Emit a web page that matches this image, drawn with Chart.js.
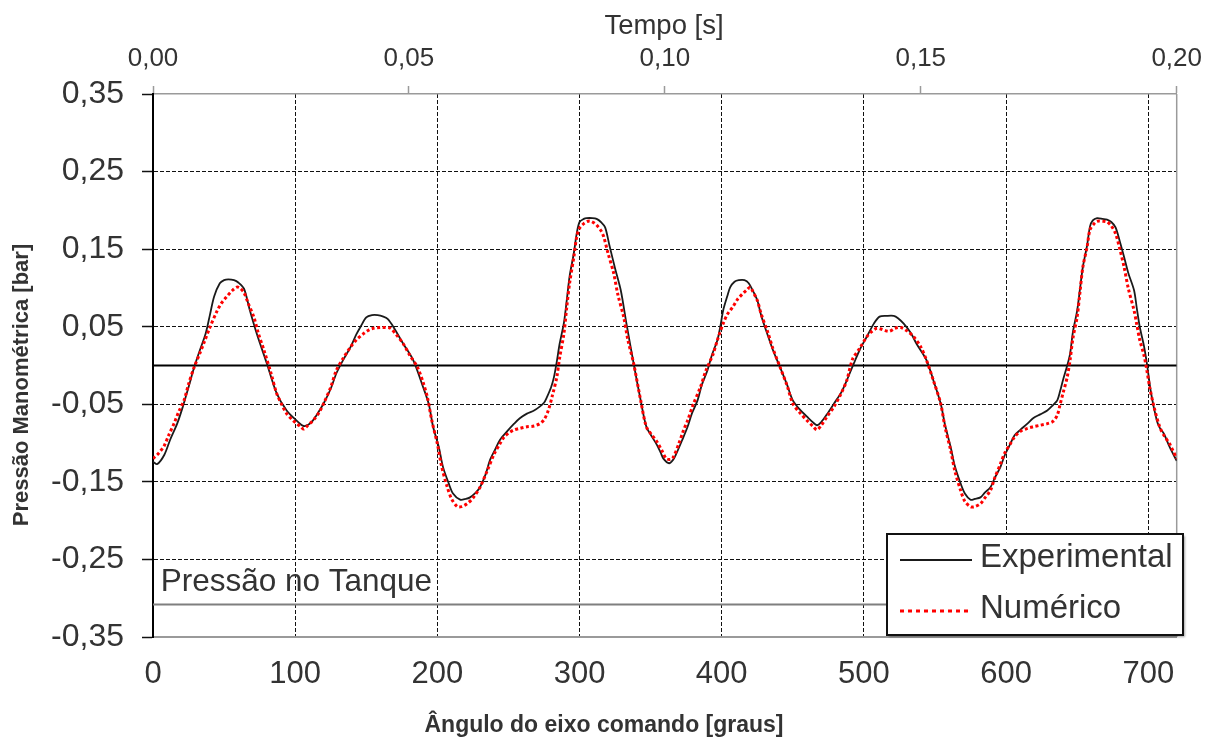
<!DOCTYPE html>
<html>
<head>
<meta charset="utf-8">
<script src="https://cdn.jsdelivr.net/npm/chart.js@4.4.1/dist/chart.umd.min.js"></script>
<style>
  html, body { margin: 0; padding: 0; background: #ffffff; }
  #wrap { width: 1214px; height: 740px; }
</style>
</head>
<body>
<div id="wrap"><canvas id="chart" width="1214" height="740"></canvas></div>
<script>
// Camshaft angle (degrees) and measured gauge pressure (bar)
const expAngle = [0,3,8,12,17,21,25,29,33,37,40,43,47,50,53,57,60,64,68,73,80,87,94,101,106,111,115,120,125,129,134,139,143,146,150,154,158,162,165,169,176,183,190,194,197,201,204,208,211,216,220,223,227,230,234,237,241,244,249,254,258,263,268,272,275,277,280,282,284,286,289,291,293,296,298,300,303,305,309,312,315,318,321,325,329,333,338,343,347,351,354,357,359,363,366,368,372,376,379,383,386,390,393,397,399,401,404,406,409,412,416,419,422,425,428,432,436,441,446,450,455,460,464,467,470,474,479,484,488,493,497,502,507,511,516,521,524,528,533,537,544,549,554,557,561,564,568,571,575,578,582,585,589,592,596,599,603,606,610,615,619,624,629,633,636,638,640,643,645,647,650,652,654,657,659,661,664,668,671,674,677,680,683,686,690,692,694,697,699,702,706,708,711,715,720];
const expPressure = [-0.124,-0.127,-0.115,-0.096,-0.075,-0.053,-0.028,-0.002,0.020,0.041,0.065,0.089,0.106,0.110,0.111,0.110,0.107,0.099,0.072,0.041,0.003,-0.036,-0.058,-0.071,-0.078,-0.074,-0.064,-0.049,-0.030,-0.010,0.008,0.024,0.040,0.050,0.062,0.065,0.065,0.063,0.060,0.050,0.028,0.007,-0.028,-0.050,-0.079,-0.105,-0.131,-0.152,-0.165,-0.173,-0.172,-0.170,-0.164,-0.157,-0.140,-0.122,-0.107,-0.096,-0.085,-0.075,-0.068,-0.062,-0.058,-0.053,-0.048,-0.041,-0.028,-0.015,0.005,0.028,0.055,0.084,0.115,0.145,0.170,0.185,0.189,0.190,0.190,0.189,0.185,0.178,0.155,0.125,0.097,0.054,0.003,-0.045,-0.079,-0.092,-0.101,-0.112,-0.120,-0.126,-0.121,-0.114,-0.097,-0.079,-0.062,-0.045,-0.025,-0.006,0.013,0.033,0.050,0.071,0.090,0.101,0.108,0.110,0.110,0.106,0.096,0.084,0.063,0.041,0.020,-0.002,-0.025,-0.045,-0.057,-0.066,-0.073,-0.077,-0.073,-0.063,-0.049,-0.035,-0.019,0.003,0.020,0.037,0.054,0.063,0.064,0.064,0.061,0.054,0.042,0.028,0.007,-0.020,-0.049,-0.076,-0.105,-0.130,-0.152,-0.165,-0.173,-0.172,-0.170,-0.164,-0.157,-0.145,-0.131,-0.116,-0.101,-0.090,-0.083,-0.075,-0.068,-0.063,-0.058,-0.051,-0.045,-0.033,-0.019,0.000,0.015,0.043,0.071,0.099,0.127,0.155,0.179,0.187,0.190,0.189,0.188,0.185,0.178,0.160,0.140,0.119,0.097,0.073,0.050,0.025,0.003,-0.036,-0.071,-0.080,-0.088,-0.105,-0.123];

// Simulated gauge pressure (bar)
const numAngle = [0,4,8,11,15,18,22,25,29,33,36,40,45,48,52,56,59,61,64,67,71,74,78,83,87,91,94,98,101,104,106,109,113,117,120,125,129,134,139,143,148,152,155,160,164,167,171,176,181,186,190,193,196,200,203,207,210,214,217,221,225,230,235,240,244,247,251,254,258,263,268,272,275,278,281,284,286,289,291,293,296,298,300,303,306,308,310,312,315,317,320,324,327,331,334,338,343,347,351,354,358,361,364,366,370,373,376,380,385,389,394,397,401,404,408,411,415,418,420,422,425,428,432,436,441,446,450,455,460,464,467,470,474,479,484,488,492,497,502,505,509,512,515,518,522,526,530,535,540,544,549,554,557,561,564,568,571,575,578,582,585,589,592,596,599,603,606,610,615,619,624,629,633,636,638,640,643,645,647,650,652,654,657,659,662,664,668,671,674,677,680,683,686,690,692,694,697,699,701,704,708,711,715,720];
const numPressure = [-0.120,-0.113,-0.103,-0.090,-0.074,-0.060,-0.044,-0.024,-0.002,0.016,0.030,0.049,0.070,0.080,0.089,0.097,0.101,0.100,0.094,0.080,0.062,0.042,0.020,-0.010,-0.036,-0.052,-0.062,-0.070,-0.075,-0.079,-0.082,-0.077,-0.070,-0.060,-0.049,-0.028,-0.006,0.010,0.024,0.033,0.041,0.046,0.048,0.049,0.049,0.048,0.040,0.028,0.012,-0.002,-0.022,-0.041,-0.070,-0.101,-0.130,-0.157,-0.172,-0.182,-0.182,-0.178,-0.171,-0.157,-0.136,-0.114,-0.101,-0.092,-0.086,-0.083,-0.081,-0.079,-0.078,-0.075,-0.070,-0.058,-0.038,-0.015,0.010,0.041,0.075,0.106,0.140,0.166,0.177,0.183,0.186,0.186,0.184,0.181,0.174,0.166,0.145,0.119,0.091,0.063,0.033,0.003,-0.045,-0.079,-0.090,-0.097,-0.110,-0.120,-0.121,-0.118,-0.100,-0.084,-0.071,-0.050,-0.028,-0.006,0.015,0.033,0.054,0.066,0.076,0.085,0.093,0.098,0.101,0.095,0.084,0.065,0.045,0.022,-0.002,-0.026,-0.049,-0.061,-0.071,-0.078,-0.083,-0.077,-0.066,-0.053,-0.036,-0.019,0.008,0.022,0.037,0.043,0.048,0.047,0.045,0.044,0.048,0.049,0.045,0.037,0.024,0.007,-0.020,-0.049,-0.079,-0.109,-0.136,-0.161,-0.175,-0.182,-0.182,-0.178,-0.171,-0.161,-0.145,-0.127,-0.113,-0.101,-0.092,-0.085,-0.081,-0.079,-0.077,-0.075,-0.072,-0.064,-0.050,-0.036,-0.015,0.007,0.035,0.063,0.095,0.127,0.153,0.175,0.183,0.186,0.186,0.185,0.180,0.170,0.150,0.127,0.099,0.071,0.052,0.033,0.013,-0.006,-0.028,-0.053,-0.079,-0.090,-0.101,-0.120];

// Axis ticks and reference levels
const angleTicks = [0, 100, 200, 300, 400, 500, 600, 700];
const timeTicks = [0, 0.05, 0.10, 0.15, 0.20];
const pressureTicks = [-0.35, -0.25, -0.15, -0.05, 0.05, 0.15, 0.25, 0.35];
const angleRange = [0, 720];
const timeRange = [0, 0.20];
const pressureRange = [-0.35, 0.35];
const tankPressure = -0.308;
const zeroPressure = 0;

const FONT = '"Liberation Sans", Arial, Helvetica, sans-serif';
const TEXT = '#333333';

const toPoints = (xs, ys) => xs.map((x, i) => ({ x: x, y: ys[i] }));
const comma = (v, d) => v.toFixed(d).replace('.', ',');

// Frame, annotations, legend and axis titles
const decorations = {
  id: 'decorations',
  beforeDatasetsDraw(chart) {
    const { ctx, chartArea: a, scales } = chart;
    ctx.save();
    // right edge of the plotting frame
    ctx.strokeStyle = '#9a9a9a';
    ctx.lineWidth = 1.5;
    ctx.beginPath();
    ctx.moveTo(a.right, a.top);
    ctx.lineTo(a.right, a.bottom);
    ctx.stroke();
    // tank pressure caption
    ctx.fillStyle = TEXT;
    ctx.font = '31.5px ' + FONT;
    ctx.textBaseline = 'alphabetic';
    ctx.textAlign = 'left';
    ctx.fillText('Pressão no Tanque', scales.x.getPixelForValue(5.4), scales.y.getPixelForValue(tankPressure) - 13);
    ctx.restore();
  },
  afterDraw(chart) {
    const { ctx } = chart;
    ctx.save();
    // legend box
    const bx = 887, by = 534, bw = 296, bh = 101;
    ctx.shadowColor = 'rgba(0,0,0,0.35)';
    ctx.shadowOffsetX = 2;
    ctx.shadowOffsetY = 2;
    ctx.shadowBlur = 2;
    ctx.fillStyle = '#ffffff';
    ctx.fillRect(bx, by, bw, bh);
    ctx.shadowColor = 'transparent';
    ctx.strokeStyle = '#111111';
    ctx.lineWidth = 2;
    ctx.strokeRect(bx, by, bw, bh);
    const rows = [
      { ds: chart.data.datasets[0], y: 560, dash: [], width: 1.8 },
      { ds: chart.data.datasets[1], y: 611, dash: [4, 4], width: 3 }
    ];
    ctx.font = '33px ' + FONT;
    ctx.textAlign = 'left';
    ctx.textBaseline = 'middle';
    rows.forEach(r => {
      ctx.strokeStyle = r.ds.borderColor;
      ctx.lineWidth = r.width;
      ctx.setLineDash(r.dash);
      ctx.beginPath();
      ctx.moveTo(900, r.y);
      ctx.lineTo(972, r.y);
      ctx.stroke();
      ctx.setLineDash([]);
      ctx.fillStyle = TEXT;
      ctx.fillText(r.ds.label, 980, r.y - 2);
    });
    // axis titles
    ctx.fillStyle = TEXT;
    ctx.textBaseline = 'alphabetic';
    ctx.textAlign = 'center';
    ctx.font = '27.5px ' + FONT;
    ctx.fillText('Tempo [s]', 664, 34);
    ctx.font = 'bold 23px ' + FONT;
    ctx.fillText('Ângulo do eixo comando [graus]', 604, 732);
    ctx.translate(28, 385);
    ctx.rotate(-Math.PI / 2);
    ctx.font = 'bold 22px ' + FONT;
    ctx.fillText('Pressão Manométrica [bar]', 0, 0);
    ctx.restore();
  }
};

new Chart(document.getElementById('chart'), {
  type: 'line',
  data: {
    datasets: [
      {
        label: 'Experimental',
        data: toPoints(expAngle, expPressure),
        borderColor: '#1a1a1a',
        borderWidth: 1.8,
        pointRadius: 0,
        tension: 0.3,
        order: 1
      },
      {
        label: 'Numérico',
        data: toPoints(numAngle, numPressure),
        borderColor: '#ff0000',
        borderWidth: 3,
        borderDash: [3, 2.5],
        borderCapStyle: 'butt',
        pointRadius: 0,
        tension: 0.3,
        order: 0
      },
      {
        label: 'zero',
        data: toPoints(angleRange, [zeroPressure, zeroPressure]),
        borderColor: '#000000',
        borderWidth: 1.8,
        pointRadius: 0,
        order: 2
      },
      {
        label: 'tanque',
        data: toPoints(angleRange, [tankPressure, tankPressure]),
        borderColor: '#7f7f7f',
        borderWidth: 2,
        pointRadius: 0,
        order: 2
      }
    ]
  },
  options: {
    responsive: false,
    animation: false,
    devicePixelRatio: 1,
    layout: { padding: { left: 0, right: 37, top: 0, bottom: 0 } },
    plugins: {
      legend: { display: false },
      tooltip: { enabled: false }
    },
    scales: {
      x: {
        type: 'linear',
        position: 'bottom',
        min: angleRange[0],
        max: angleRange[1],
        afterBuildTicks: s => { s.ticks = angleTicks.map(v => ({ value: v })); },
        afterFit: s => { s.height = 103; },
        ticks: {
          font: { family: FONT, size: 31 },
          color: TEXT,
          padding: 19,
          maxRotation: 0,
          autoSkip: false,
          callback: v => String(v)
        },
        grid: {
          color: c => (c.tick && c.tick.value === angleRange[0]) ? 'rgba(0,0,0,0)' : '#111111',
          lineWidth: 1,
          drawTicks: false,
          borderDash: [4, 2]
        },
        border: { display: true, color: '#9a9a9a', width: 2, dash: [4, 2] }
      },
      xTop: {
        type: 'linear',
        axis: 'x',
        position: 'top',
        min: timeRange[0],
        max: timeRange[1],
        afterBuildTicks: s => { s.ticks = timeTicks.map(v => ({ value: v })); },
        afterFit: s => { s.height = 94; },
        ticks: {
          font: { family: FONT, size: 26 },
          color: TEXT,
          padding: 12,
          maxRotation: 0,
          autoSkip: false,
          callback: v => comma(v, 2)
        },
        grid: {
          drawOnChartArea: false,
          tickLength: 8,
          tickColor: '#9a9a9a',
          tickWidth: 1.5
        },
        border: { display: true, color: '#9a9a9a', width: 1.5 }
      },
      y: {
        type: 'linear',
        position: 'left',
        min: pressureRange[0],
        max: pressureRange[1],
        afterBuildTicks: s => { s.ticks = pressureTicks.map(v => ({ value: v })); },
        afterFit: s => { s.width = 153; },
        ticks: {
          font: { family: FONT, size: 32 },
          color: TEXT,
          padding: 18,
          autoSkip: false,
          callback: v => comma(v, 2)
        },
        grid: {
          color: c => (c.tick && Math.abs(Math.abs(c.tick.value) - 0.35) < 1e-9) ? 'rgba(0,0,0,0)' : '#111111',
          lineWidth: 1,
          drawTicks: true,
          tickLength: 11,
          tickColor: '#111111',
          tickWidth: 1.5,
          borderDash: [4, 2]
        },
        border: { display: true, color: '#000000', width: 2, dash: [4, 2] }
      }
    }
  },
  plugins: [decorations]
});
</script>
</body>
</html>
